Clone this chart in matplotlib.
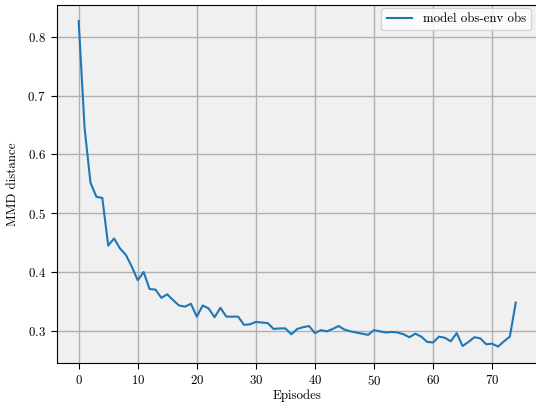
import numpy as np
import matplotlib
matplotlib.use("Agg")
import matplotlib.pyplot as plt

plt.rcParams['font.family'] = ['cmr10', 'DejaVu Serif']
plt.rcParams['axes.formatter.use_mathtext'] = True
plt.rcParams['font.size'] = 9.3

# MMD distance per episode
mmd = [0.827, 0.645, 0.552, 0.528, 0.526, 0.445, 0.457, 0.440, 0.429, 0.409,
       0.386, 0.400, 0.371, 0.370, 0.356, 0.362, 0.352, 0.343, 0.341, 0.346,
       0.324, 0.343, 0.338, 0.323, 0.339, 0.324, 0.324, 0.324, 0.310, 0.311,
       0.315, 0.314, 0.313, 0.303, 0.304, 0.304, 0.294, 0.303, 0.306, 0.308,
       0.296, 0.301, 0.299, 0.303, 0.308, 0.302, 0.299, 0.297, 0.295, 0.293,
       0.301, 0.299, 0.297, 0.298, 0.297, 0.294, 0.289, 0.295, 0.290, 0.281,
       0.280, 0.290, 0.288, 0.282, 0.296, 0.274, 0.281, 0.289, 0.287, 0.277,
       0.278, 0.273, 0.282, 0.290, 0.348]
episodes = np.arange(len(mmd))
series_label = "model obs-env obs"

fig = plt.figure(figsize=(5.36, 4.05), dpi=100)
# right edge of the axes is cut off in the original, so let it run past the figure
ax = fig.add_axes([0.106, 0.104, 0.897, 0.884])
ax.set_facecolor('#f0f0f0')

ax.plot(episodes, mmd, color='#1f77b4', linewidth=1.5, label=series_label)

ax.grid(True, color='#b0b0b0', linewidth=1.0)
ax.set_axisbelow(True)
ax.set_xlabel("Episodes", labelpad=1)
ax.set_ylabel("MMD distance", labelpad=6)
ax.set_xticks([0, 10, 20, 30, 40, 50, 60, 70])
ax.set_yticks([0.3, 0.4, 0.5, 0.6, 0.7, 0.8])
ax.tick_params(direction='out', length=4, pad=4)
for s in ax.spines.values():
    s.set_color('black')

ax.legend(loc='upper right', facecolor='white', framealpha=0.8,
          bbox_to_anchor=(531 / 536, 1 - 8 / 405), bbox_transform=fig.transFigure,
          borderaxespad=0)

fig.savefig("out.png", dpi=100)
